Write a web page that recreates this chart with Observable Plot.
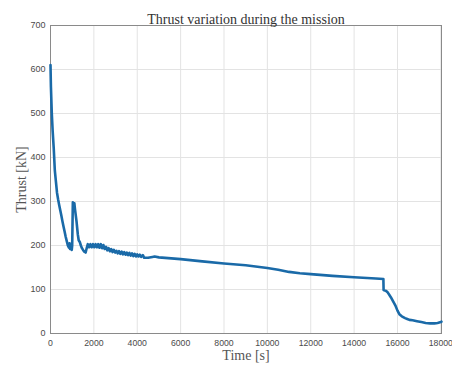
<!DOCTYPE html>
<html><head><meta charset="utf-8">
<script src="https://cdn.jsdelivr.net/npm/d3@7"></script>
<script src="https://cdn.jsdelivr.net/npm/@observablehq/plot@0.6"></script>
<style>body{margin:0;background:#fff;} svg{display:block;}</style>
</head><body><div id="chart"></div>
<script>
const title = "Thrust variation during the mission";
const xLabel = "Time [s]";
const yLabel = "Thrust [kN]";
const xTicks = [0,2000,4000,6000,8000,10000,12000,14000,16000,18000];
const yTicks = [0,100,200,300,400,500,600,700];
const timeS = [0,20,60,100,150,200,250,300,350,400,450,500,550,600,650,700,750,800,850,880,900,950,980,1000,1030,1080,1100,1130,1200,1260,1300,1350,1400,1450,1500,1560,1620,1680,1720,
1780,1840,1900,1960,2020,2080,2140,2200,2260,2320,2380,2440,2500,2560,2620,2680,2740,2800,2860,2920,2980,3040,3100,3160,3220,3280,3340,3400,3460,3520,3580,3640,3700,3760,3820,3880,3940,4000,4060,4120,4180,4260,4320,
4500,4700,4800,5000,6000,7000,8000,9000,10000,10500,11000,11500,12000,13000,14000,15000,15350,15360,15460,15540,15620,15700,15800,15900,16000,16100,16200,16350,16450,16550,16700,16900,17100,17300,17500,17700,17850,18000,18030];
const thrustKN = [610,560,500,460,420,370,345,320,305,292,280,268,255,243,232,220,210,200,195,205,192,198,190,200,298,288,296,282,255,225,212,208,200,194,190,186,184,196,203,
196,203,196,203,196,203,196,203,195,203,194,201,192,197,189,194,187,192,185,190,184,188,182,187,181,186,180,185,179,184,178,183,177,182,176,181,175,180,175,179,174,178,172,
172,174,175,173,169,164,159,155,149,145,140,137,135,131,128,125,124,99,97,94,88,82,73,64,52,43,39,35,33,31,30,28,26,24,23,23,24,26,27];
const data = timeS.map((t,i)=>({t, v: thrustKN[i]}));

const chart = Plot.plot({
  width: 452, height: 365,
  marginLeft: 50, marginRight: 11, marginTop: 25, marginBottom: 32,
  style: {fontFamily: "'Liberation Sans', Arial, sans-serif", fontSize: "9px", color: "#4a4a4a", background: "#fff"},
  x: {domain: [0, 18030]},
  y: {domain: [0, 700]},
  marks: [
    Plot.gridX(xTicks, {stroke: "#e3e3e3", strokeOpacity: 1}),
    Plot.gridY(yTicks, {stroke: "#e3e3e3", strokeOpacity: 1}),
    Plot.frame({stroke: "#8a8a8a"}),
    Plot.axisX({ticks: xTicks, tickSize: 0, tickPadding: 6, fontSize: 8.7, label: xLabel, labelAnchor: "center", labelArrow: "none", labelOffset: 26, tickFormat: d => String(d)}),
    Plot.axisY({ticks: yTicks, tickSize: 0, tickPadding: 5, label: yLabel, labelAnchor: "center", labelArrow: "none", labelOffset: 34, tickFormat: d => String(d)}),
    Plot.line(data, {x: "t", y: "v", stroke: "#1a6aa8", strokeWidth: 2.6, strokeLinejoin: "round"}),
    Plot.text([title], {frameAnchor: "top", dy: -11, fontFamily: "'Liberation Serif', serif", fontSize: 14, fill: "#333"})
  ]
});
document.getElementById("chart").appendChild(chart);
chart.querySelectorAll("g[aria-label='x-axis label'] text, g[aria-label='y-axis label'] text").forEach(t => {
  t.setAttribute("font-family", "'Liberation Serif', serif");
  t.setAttribute("font-size", "14");
  t.setAttribute("fill", "#555");
});
</script>
</body></html>
